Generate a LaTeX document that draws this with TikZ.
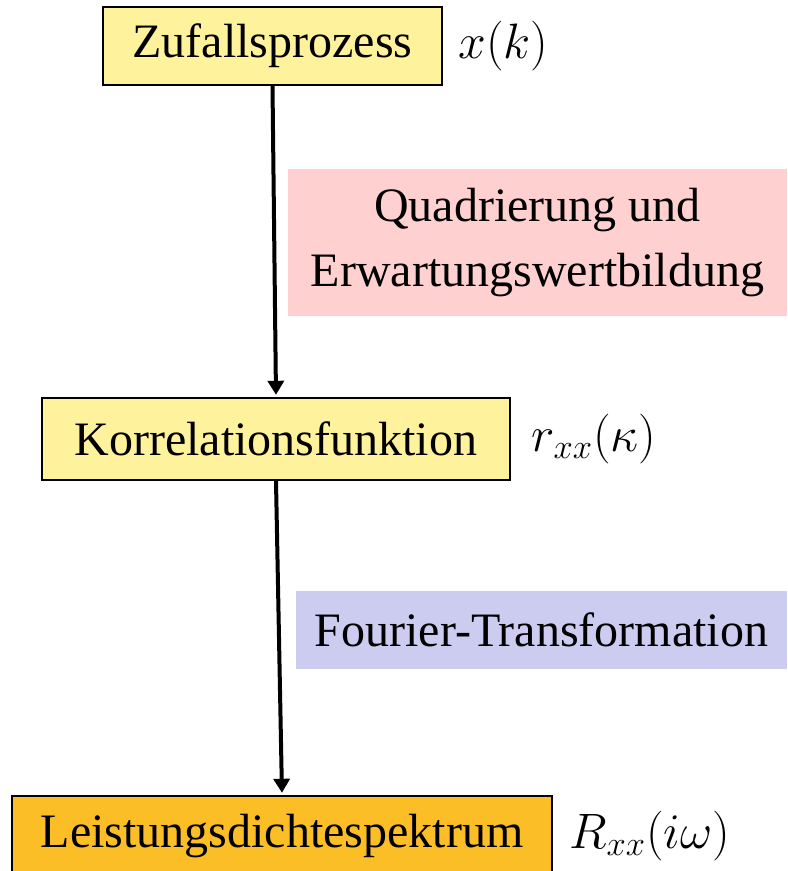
\documentclass[tikz,border=0pt]{standalone}
\usepackage[no-math]{fontspec}
\setmainfont{Liberation Serif}
\usetikzlibrary{arrows.meta}
\definecolor{blockyellow}{RGB}{255,242,156}
\definecolor{blockorange}{RGB}{252,190,38}
\definecolor{oppink}{RGB}{255,208,208}
\definecolor{opblue}{RGB}{204,204,240}
\tikzset{block/.style={draw=black,line width=1.2pt,inner sep=0pt,font=\fontsize{24}{29}\selectfont}}
\tikzset{opbox/.style={inner sep=0pt,align=center,font=\fontsize{24}{32.5}\selectfont}}
\tikzset{signal/.style={anchor=west,inner sep=0pt,font=\fontsize{24}{29}\selectfont}}
\tikzset{flow/.style={line width=2pt,shorten >=1pt,-{Triangle[width=8pt,length=7pt]}}}

\begin{document}
\begin{tikzpicture}[x=0.5pt,y=-0.5pt]
        \useasboundingbox (0,0) rectangle (787,871);
        \node[block,fill=blockyellow,minimum width=169.5pt,minimum height=39pt] (zp) at (272.5,46) {Zufallsprozess};
        \node[block,fill=blockyellow,minimum width=234pt,minimum height=41pt] (kf) at (276,439) {Korrelationsfunktion};
        \node[block,fill=blockorange,minimum width=270pt,minimum height=40pt] (lds) at (282,836) {Leistungsdichtespektrum};
        \node[signal,xshift=7.5pt] at (zp.east) {$x(k)$};
        \node[signal,xshift=10pt] at (kf.east) {$r_{xx}(\kappa)$};
        \node[signal,xshift=8pt] at (lds.east) {$R_{xx}(i\omega)$};
        \node[opbox,fill=oppink,minimum width=249.5pt,minimum height=73.5pt] (quad) at (537.5,242.5) {Quadrierung und\\Erwartungswertbildung};
        \node[opbox,fill=opblue,minimum width=245.5pt,minimum height=39pt] (ft) at (541.5,630) {Fourier-Transformation};
        \draw[flow] (zp.south) -- (kf.north);
        \draw[flow] (kf.south) -- (lds.north);
    \end{tikzpicture}
\end{document}
